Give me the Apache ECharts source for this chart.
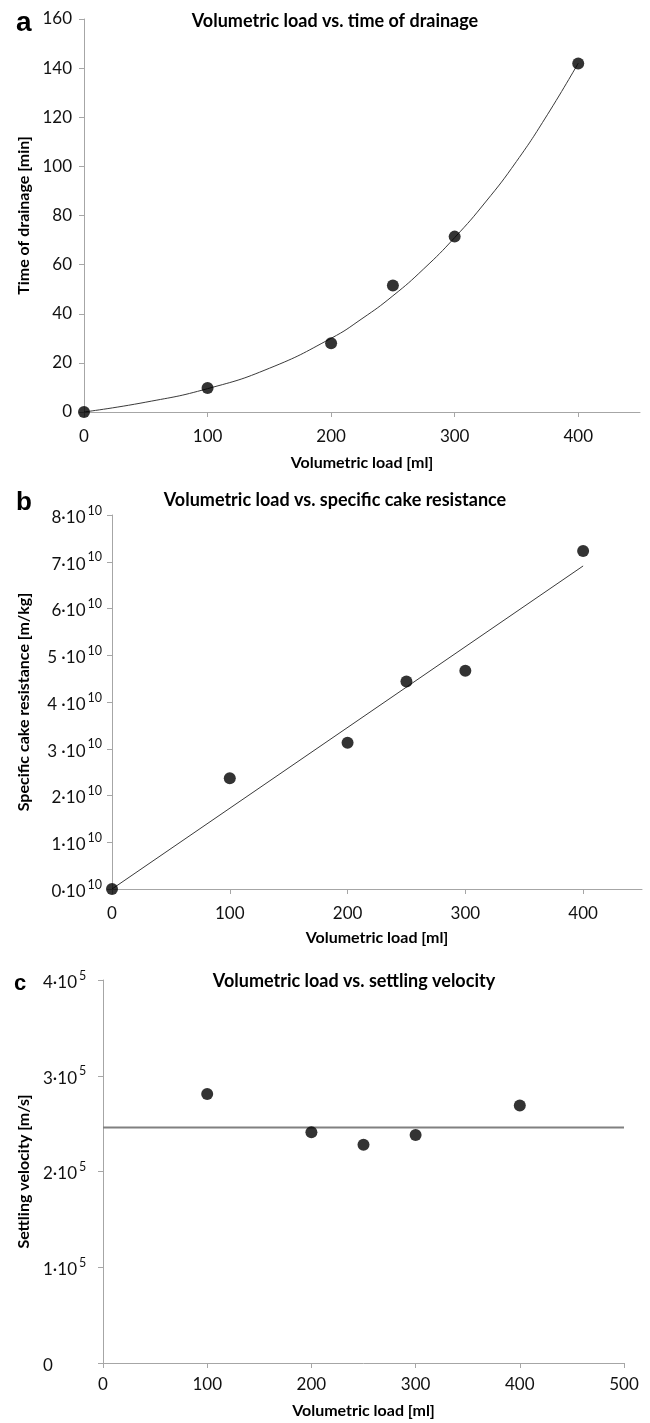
<!DOCTYPE html>
<html>
<head>
<meta charset="utf-8">
<script src="https://cdn.jsdelivr.net/npm/echarts@6/dist/echarts.min.js"></script>
<style>
  html, body { margin: 0; padding: 0; background: #fff; }
  #chart { width: 650px; height: 1423px; }
</style>
</head>
<body>
<div id="chart"></div>
<script>
// ---------- Panel a: Volumetric load vs. time of drainage ----------
const aLoad = [0, 100, 200, 250, 300, 400];
const aTime = [0, 9.8, 28, 51.5, 71.4, 141.9];
// points
const aTrendLoad = [0, 50, 100, 150, 200, 225, 250, 275, 300, 325, 350, 375, 400];
const aTrendTime = [0, 4, 9.5, 17.8, 30, 38, 47.3, 58.3, 71, 85.5, 102, 121, 142];
const aXTicks = [0, 100, 200, 300, 400];
const aYTicks = [0, 20, 40, 60, 80, 100, 120, 140, 160];

// ---------- Panel b: Volumetric load vs. specific cake resistance ----------
const bLoad = [0, 100, 200, 250, 300, 400];
const bResistance = [0, 2.37e10, 3.13e10, 4.44e10, 4.67e10, 7.23e10];
const bTrendLoad = [0, 400];
const bTrendResistance = [0, 6.91e10];
const bXTicks = [0, 100, 200, 300, 400];
const bYTicks = [0, 1e10, 2e10, 3e10, 4e10, 5e10, 6e10, 7e10, 8e10];
const bYTickMantissa = ['0', '1', '2', '3 ', '4 ', '5 ', '6', '7', '8'];

// ---------- Panel c: Volumetric load vs. settling velocity ----------
const cLoad = [100, 200, 250, 300, 400];
const cVelocity = [2.81e5, 2.41e5, 2.28e5, 2.38e5, 2.69e5];
const cMeanLoad = [0, 500];
const cMeanVelocity = [2.46e5, 2.46e5];
const cXTicks = [0, 100, 200, 300, 400, 500];
const cYTicks = [0, 1e5, 2e5, 3e5, 4e5];
const cYTickMantissa = ['0', '1', '2', '3', '4'];

const titles = [
  'Volumetric load vs. time of drainage',
  'Volumetric load vs. specific cake resistance',
  'Volumetric load vs. settling velocity'
];
const xName = 'Volumetric load [ml]';
const yNames = ['Time of drainage [min]', 'Specific cake resistance [m/kg]', 'Settling velocity [m/s]'];

const FONT = 'Lato';
const zip = (xs, ys) => xs.map((x, i) => [x, ys[i]]);

const axisLineStyle = { lineStyle: { color: '#a6a6a6', width: 1 } };
const tickStyle = { show: true, length: 5, lineStyle: { color: '#a6a6a6', width: 1 } };
const nameStyle = { fontFamily: FONT, fontWeight: 'bold', fontSize: 16, color: '#000' };
const labelStyle = { fontFamily: FONT, fontSize: 17, color: '#111' };
const titleStyle = { fontFamily: FONT, fontWeight: 'bold', fontSize: 18, color: '#000' };
const letterStyle = size => ({ fontFamily: 'Liberation Sans', fontWeight: 'bold', fontSize: size, color: '#000' });

const supRich = {
  n: { fontFamily: FONT, fontSize: 17, color: '#111', lineHeight: 22, verticalAlign: 'bottom' },
  s: { fontFamily: FONT, fontSize: 12.5, color: '#111', lineHeight: 11, verticalAlign: 'top', padding: [0, 0, 0, 2] }
};

function xAxisDef(grid, max, ticks, margin, gap) {
  return {
    gridIndex: grid, type: 'value', min: 0, max: max, interval: 50,
    axisLine: axisLineStyle,
    axisTick: Object.assign({ customValues: ticks }, tickStyle),
    axisLabel: Object.assign({ customValues: ticks, margin: margin }, labelStyle),
    splitLine: { show: false },
    name: xName, nameLocation: 'middle', nameGap: gap, nameTextStyle: nameStyle
  };
}

const option = {
  animation: false,
  backgroundColor: '#fff',
  title: [
    { text: 'a', left: 16, top: 9, padding: 0, textStyle: letterStyle(28) },
    { text: titles[0], left: 335, top: 12, padding: 0, textAlign: 'center', textStyle: titleStyle },
    { text: 'b', left: 16, top: 490, padding: 0, textStyle: letterStyle(26) },
    { text: titles[1], left: 335, top: 491, padding: 0, textAlign: 'center', textStyle: titleStyle },
    { text: 'c', left: 14, top: 973, padding: 0, textStyle: letterStyle(22) },
    { text: titles[2], left: 354, top: 972, padding: 0, textAlign: 'center', textStyle: titleStyle }
  ],
  grid: [
    { left: 84, top: 19, width: 556, height: 393 },
    { left: 112, top: 515, width: 530, height: 374 },
    { left: 103, top: 980, width: 521, height: 383 }
  ],
  xAxis: [
    xAxisDef(0, 450, aXTicks, 16, 43),
    xAxisDef(1, 450, bXTicks, 16, 41),
    xAxisDef(2, 500, cXTicks, 13, 40)
  ],
  yAxis: [
    {
      gridIndex: 0, type: 'value', min: 0, max: 160, interval: 20,
      axisLine: Object.assign({ show: true }, axisLineStyle),
      axisTick: Object.assign({ customValues: aYTicks }, tickStyle),
      axisLabel: Object.assign({ customValues: aYTicks, margin: 12 }, labelStyle),
      splitLine: { show: false },
      name: yNames[0], nameLocation: 'middle', nameGap: 52, nameTextStyle: nameStyle
    },
    {
      gridIndex: 1, type: 'value', min: 0, max: 8e10, interval: 1e10,
      axisLine: Object.assign({ show: true }, axisLineStyle),
      axisTick: Object.assign({ customValues: bYTicks }, tickStyle),
      axisLabel: {
        customValues: bYTicks, margin: 10,
        formatter: v => '{n|' + bYTickMantissa[Math.round(v / 1e10)] + '·10}{s|10}',
        rich: supRich
      },
      splitLine: { show: false },
      name: yNames[1], nameLocation: 'middle', nameGap: 80, nameTextStyle: nameStyle
    },
    {
      gridIndex: 2, type: 'value', min: 0, max: 4e5, interval: 1e5,
      axisLine: Object.assign({ show: true }, axisLineStyle),
      axisTick: Object.assign({ customValues: cYTicks }, tickStyle),
      axisLabel: {
        customValues: cYTicks, margin: 60, align: 'left',
        formatter: v => {
          const m = cYTickMantissa[Math.round(v / 1e5)];
          return v === 0 ? '{n|0}' : '{n|' + m + '·10}{s|5}';
        },
        rich: supRich
      },
      splitLine: { show: false },
      name: yNames[2], nameLocation: 'middle', nameGap: 71, nameTextStyle: nameStyle
    }
  ],
  series: [
    { type: 'line', xAxisIndex: 0, yAxisIndex: 0, data: zip(aTrendLoad, aTrendTime), smooth: true, showSymbol: false, symbol: 'none', lineStyle: { color: '#3a3a3a', width: 1 }, z: 2 },
    { type: 'scatter', xAxisIndex: 0, yAxisIndex: 0, data: zip(aLoad, aTime), symbolSize: 12, itemStyle: { color: '#000' }, z: 3 },
    { type: 'line', xAxisIndex: 1, yAxisIndex: 1, data: zip(bTrendLoad, bTrendResistance), showSymbol: false, symbol: 'none', lineStyle: { color: '#3a3a3a', width: 1 }, z: 2 },
    { type: 'scatter', xAxisIndex: 1, yAxisIndex: 1, data: zip(bLoad, bResistance), symbolSize: 12, itemStyle: { color: '#000' }, z: 3 },
    { type: 'line', xAxisIndex: 2, yAxisIndex: 2, data: zip(cMeanLoad, cMeanVelocity), showSymbol: false, symbol: 'none', lineStyle: { color: '#808080', width: 2 }, z: 2 },
    { type: 'scatter', xAxisIndex: 2, yAxisIndex: 2, data: zip(cLoad, cVelocity), symbolSize: 12, itemStyle: { color: '#000' }, z: 3 }
  ]
};

const chart = echarts.init(document.getElementById('chart'), null, { renderer: 'canvas' });
chart.setOption(option);
</script>
</body>
</html>
